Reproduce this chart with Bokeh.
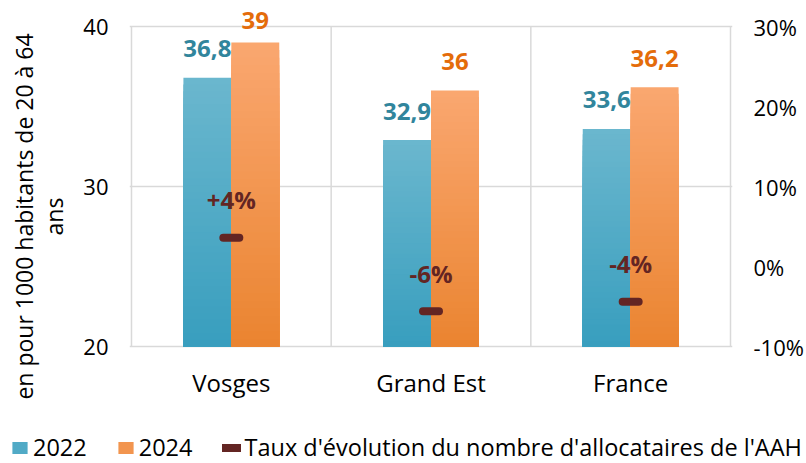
from bokeh.plotting import figure
from bokeh.layouts import column
from bokeh.models import (ColumnDataSource, FactorRange, Range1d, LinearAxis, FixedTicker,
                          Legend, LegendItem, PrintfTickFormatter)
from bokeh.core.properties import value
from bokeh.transform import dodge
from bokeh.embed import file_html
from bokeh.resources import INLINE

# ---------------- data ----------------
categories = ["Vosges", "Grand Est", "France"]
values_2022 = [36.8, 32.9, 33.6]
values_2024 = [39.0, 36.0, 36.2]
evolution_pct = [3.6, -5.6, -4.4]
series_names = ["2022", "2024", "Taux d'évolution du nombre d'allocataires de l'AAH"]
left_ticks = [20, 30, 40]
right_ticks = [-10, 0, 10, 20, 30]
y_label = "en pour 1000 habitants de 20 à 64\nans"

# ---------------- style ----------------
FONT = "Open Sans"
GRID = "#D9D9D9"
BLUE_TOP, BLUE_BOT = (107, 183, 206), (56, 158, 190)
ORANGE_TOP, ORANGE_BOT = (250, 167, 112), (234, 132, 48)
BLUE_TXT, ORANGE_TXT, EVO_COL = "#31859C", "#E46C0A", "#632523"
Y0, Y1 = 20, 40            # value axis extent shown by the grid
R0, R1 = -10, 30           # right axis extent
W = 806
MAIN_H, LEG_H = 432, 31
GRID_TOP, GRID_BOTTOM = 26, 346
PX_PER_UNIT = (GRID_BOTTOM - GRID_TOP) / (Y1 - Y0)
Y_VIEW_TOP = Y1 + GRID_TOP / PX_PER_UNIT
Y_VIEW_BOT = Y0 - (MAIN_H - GRID_BOTTOM) / PX_PER_UNIT
R_SCALE = (R1 - R0) / (Y1 - Y0)
BASE_CORR = 9

p = figure(x_range=FactorRange(*categories, range_padding=0.01, range_padding_units="absolute"),
           y_range=Range1d(Y_VIEW_BOT, Y_VIEW_TOP),
           width=W, height=MAIN_H,
           min_border_left=129, min_border_right=W - 734, min_border_top=0,
           min_border_bottom=0, output_backend="svg", toolbar_location=None,
           background_fill_color="white", border_fill_color="white")
p.frame_align = False
p.extra_y_ranges = {"pct": Range1d(R0 - (Y0 - Y_VIEW_BOT) * R_SCALE,
                                   R1 + (Y_VIEW_TOP - Y1) * R_SCALE)}

def hexcol(c):
    return "#%02x%02x%02x" % tuple(int(round(v)) for v in c)

def mix(ctop, cbot, f):
    return hexcol([cbot[i] + (ctop[i] - cbot[i]) * f for i in range(3)])

N_SLICES = 40
def gradient_source(values, ctop, cbot, n=N_SLICES):
    # overlapping bars from the base, longest (top colour) first
    cat, top, col = [], [], []
    for k in range(n - 1, -1, -1):
        cc = mix(ctop, cbot, (k + 0.5) / n)
        for c, v in zip(categories, values):
            cat.append(c)
            top.append(Y0 + (v - Y0) * (k + 1) / n)
            col.append(cc)
    return ColumnDataSource(dict(cat=cat, top=top, color=col))

# grid lines (category boundaries and value gridlines)
bounds = list(range(len(categories) + 1))
p.segment(x0=bounds, x1=bounds, y0=Y0, y1=Y1, line_color=GRID, line_width=1.5)
p.xgrid.visible = False
p.ygrid.ticker = FixedTicker(ticks=left_ticks)
p.ygrid.grid_line_color = GRID
p.ygrid.grid_line_width = 1.5
p.outline_line_color = None

BW = 0.24
src22 = gradient_source(values_2022, BLUE_TOP, BLUE_BOT)
src24 = gradient_source(values_2024, ORANGE_TOP, ORANGE_BOT)
p.vbar(x=dodge("cat", -BW / 2, range=p.x_range), bottom=Y0, top="top", width=BW,
       source=src22, fill_color="color", line_color=None)
p.vbar(x=dodge("cat", BW / 2, range=p.x_range), bottom=Y0, top="top", width=BW,
       source=src24, fill_color="color", line_color=None)

# value labels
def label_source(values):
    labels = [("%g" % v).replace(".", ",") for v in values]
    offs = []
    for v in values:
        bartop = GRID_TOP + (Y1 - v) * PX_PER_UNIT
        offs.append(-(min(20, bartop - 29) + BASE_CORR))
    return ColumnDataSource(dict(cat=categories, v=values, label=labels, off=offs))

for vals, dx, col in ((values_2022, -BW / 2, BLUE_TXT), (values_2024, BW / 2, ORANGE_TXT)):
    p.text(x=dodge("cat", dx, range=p.x_range), y="v", text="label", y_offset="off",
           source=label_source(vals), text_align="center", text_baseline="alphabetic",
           text_font=value(FONT), text_font_style="bold", text_font_size="24px", text_color=col)

# evolution markers
evo_src = ColumnDataSource(dict(cat=categories, evo=evolution_pct,
                                label=[("%+.0f%%" % v) for v in evolution_pct]))
p.segment(x0=dodge("cat", -0.04, range=p.x_range), x1=dodge("cat", 0.04, range=p.x_range),
          y0="evo", y1="evo", source=evo_src, y_range_name="pct",
          line_color=EVO_COL, line_width=8, line_cap="round")
p.text(x="cat", y="evo", text="label", source=evo_src, y_range_name="pct",
       y_offset=-(29 + BASE_CORR),
       text_align="center", text_baseline="alphabetic", text_font=value(FONT),
       text_font_style="bold", text_font_size="24px", text_color=EVO_COL)

# category labels under the value axis base
cat_src = ColumnDataSource(dict(cat=categories, base=[Y0] * len(categories)))
p.text(x="cat", y="base", text="cat", source=cat_src, y_offset=45 - BASE_CORR,
       text_align="center", text_baseline="alphabetic", text_font=value(FONT),
       text_font_size="24px", text_color="black")
p.xaxis.visible = False

# left axis
p.yaxis.ticker = FixedTicker(ticks=left_ticks)
yax = p.yaxis[0]
yax.axis_line_color = None
yax.major_tick_line_color = None
yax.minor_tick_line_color = None
yax.major_tick_out = 0
yax.major_label_text_font = FONT
yax.major_label_text_color = "black"
yax.major_label_text_font_size = "22px"
yax.major_label_standoff = 21
yax.axis_label = y_label
yax.axis_label_text_font = FONT
yax.axis_label_text_font_size = "23px"
yax.axis_label_text_font_style = "normal"
yax.axis_label_text_color = "black"
yax.axis_label_text_line_height = 0.95
yax.axis_label_standoff = 10

# right axis
rax = LinearAxis(y_range_name="pct", ticker=FixedTicker(ticks=right_ticks),
                 formatter=PrintfTickFormatter(format="%d%%"))
rax.axis_line_color = None
rax.major_tick_line_color = None
rax.minor_tick_line_color = None
rax.major_tick_out = 0
rax.major_label_text_font = FONT
rax.major_label_text_font_size = "22px"
rax.major_label_text_color = "black"
rax.major_label_standoff = 21
p.add_layout(rax, "right")

# legend (separate strip below the chart; its renderers reuse the chart's data, out of view)
lf = figure(width=W, height=LEG_H, x_range=p.x_range, y_range=Range1d(1000, 1001),
            min_border=0, min_border_left=0, min_border_right=0, min_border_top=0,
            min_border_bottom=0, output_backend="svg", toolbar_location=None,
            background_fill_color="white", border_fill_color="white")
lf.frame_align = False
lf.axis.visible = False
lf.grid.visible = False
lf.outline_line_color = None
l22 = lf.vbar(x=dodge("cat", -BW / 2, range=p.x_range), bottom=Y0, top="top", width=BW,
              source=src22, fill_color="color", line_color=None)
l24 = lf.vbar(x=dodge("cat", BW / 2, range=p.x_range), bottom=Y0, top="top", width=BW,
              source=src24, fill_color="color", line_color=None)
levo = lf.segment(x0=dodge("cat", -0.04, range=p.x_range), x1=dodge("cat", 0.04, range=p.x_range),
                  y0="evo", y1="evo", source=evo_src, line_color=EVO_COL, line_width=8,
                  line_cap="round")
mid = (N_SLICES // 2) * len(categories)
legend = Legend(items=[LegendItem(label=series_names[0], renderers=[l22], index=mid),
                       LegendItem(label=series_names[1], renderers=[l24], index=mid),
                       LegendItem(label=series_names[2], renderers=[levo], index=0)],
                orientation="horizontal", location=(10, 0),
                label_text_font=FONT, label_text_font_size="23.5px", label_text_color="black",
                glyph_width=19, glyph_height=15, label_standoff=4, spacing=29,
                padding=0, margin=0, border_line_color=None, background_fill_alpha=0)
lf.add_layout(legend, "center")

open("out.html", "w").write(file_html(column(p, lf, spacing=0), INLINE))
